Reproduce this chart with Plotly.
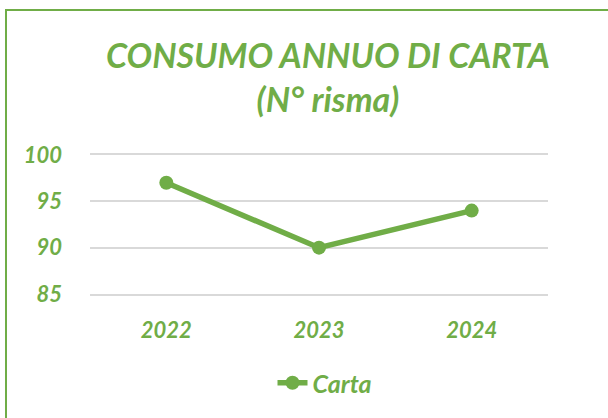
import plotly.graph_objects as go

years = ["2022", "2023", "2024"]
carta = [97, 90, 94]
y_ticks = [85, 90, 95, 100]

GREEN = "#70AD47"
GRID = "#D9D9D9"
FONT = "Lato"

fig = go.Figure()
fig.add_trace(go.Scatter(
    x=years, y=carta, name="Carta", mode="lines+markers",
    line=dict(color=GREEN, width=5.5),
    marker=dict(color=GREEN, size=14),
))

L, R, T, B = 90, 60, 155, 124
W, H = 608, 418
pw, ph = W - L - R, H - T - B

tick_font = dict(family=FONT, size=22, color=GREEN, weight="bold", style="italic")

fig.update_layout(
    width=W, height=H,
    margin=dict(l=L, r=R, t=T, b=B),
    paper_bgcolor="white", plot_bgcolor="white",
    title=dict(
        text="CONSUMO ANNUO DI CARTA<br>(N° risma)",
        x=328 / W, xanchor="center", xref="container",
        y=1 - 68 / H, yanchor="middle",
        font=dict(family=FONT, size=34, color=GREEN, weight="bold", style="italic"),
    ),
    xaxis=dict(
        type="category", range=[-0.5, 2.5], showgrid=False,
        showline=True, mirror=True, linecolor=GRID, linewidth=1.5,
        ticks="", tickfont=tick_font, automargin=False,
        ticklabelstandoff=16,
    ),
    yaxis=dict(
        range=[85, 100], tickvals=y_ticks, showgrid=True, gridcolor=GRID,
        gridwidth=1.5, zeroline=False, showline=False, ticks="",
        tickfont=tick_font, automargin=False,
        ticklabelstandoff=27,
    ),
    showlegend=True,
    legend=dict(
        orientation="h", x=0.5 + 6 / pw, xanchor="center", y=(294 - 383) / ph, yanchor="middle",
        font=dict(family=FONT, size=25, color=GREEN, weight="bold", style="italic"),
    ),
)

# chart border (top and left visible, rest cut off)
fig.add_shape(
    type="rect", xref="paper", yref="paper",
    x0=(6 - L) / pw, x1=(W + 20 - L) / pw,
    y0=-(H + 20 - (T + ph)) / ph, y1=1 + (T - 10) / ph,
    line=dict(color=GREEN, width=2), fillcolor="rgba(0,0,0,0)", layer="below",
)

fig.write_html("out.html", config={"displayModeBar": False},
               post_script="document.body.style.margin='0';")
